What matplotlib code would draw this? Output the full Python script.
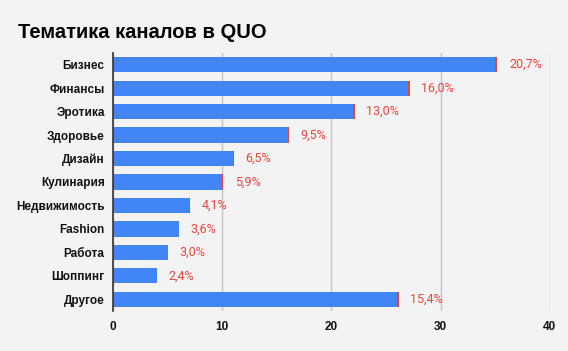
import matplotlib
matplotlib.use("Agg")
import matplotlib.pyplot as plt

categories = ["Бизнес", "Финансы", "Эротика", "Здоровье", "Дизайн", "Кулинария",
              "Недвижимость", "Fashion", "Работа", "Шоппинг", "Другое"]
counts = [35, 27, 22, 16, 11, 10, 7, 6, 5, 4, 26]
percents = [20.7, 16.0, 13.0, 9.5, 6.5, 5.9, 4.1, 3.6, 3.0, 2.4, 15.4]
xticks = [0, 10, 20, 30, 40]

bg = "#f3f3f3"
fig = plt.figure(figsize=(5.68, 3.51), dpi=100, facecolor=bg)
ax = fig.add_axes([0.199, 0.114, 0.769, 0.735], facecolor=bg)

y = list(range(len(categories)))
frac = [p / 100 for p in percents]
ax.barh(y, counts, height=0.65, color="#4285f4", zorder=3)
c2 = ax.barh(y, frac, left=counts, height=0.65, color="#ea4335", zorder=3)
labels = [f"{p:.1f}%".replace(".", ",") for p in percents]
ax.bar_label(c2, labels=labels, padding=8.5, color="#e8453c", fontsize=9,
             family="Roboto", zorder=4)

ax.set_ylim(len(categories) - 0.5, -0.5)
ax.set_xlim(0, 40)
ax.set_xticks(xticks)
ax.set_xticklabels([str(t) for t in xticks], fontsize=8.5, fontweight="bold",
                   family="Liberation Sans", color="#111111")
ax.set_yticks(y)
ax.set_yticklabels(categories, fontsize=8.5, fontweight="bold",
                   family="Liberation Sans", color="#111111")
ax.tick_params(axis="both", length=0)
ax.tick_params(axis="y", pad=6)
ax.tick_params(axis="x", pad=7)
ax.grid(axis="x", color="#c4c4c4", linewidth=1, zorder=0)
for s in ["top", "right", "bottom"]:
    ax.spines[s].set_visible(False)
ax.spines["left"].set_color("#333333")
ax.spines["left"].set_linewidth(1.2)
ax.spines["left"].set_zorder(5)

fig.text(18 / 568, 1 - 33 / 351, "Тематика каналов в QUO", fontsize=14.5,
         fontweight="bold", family="Liberation Sans", va="center", ha="left",
         color="#000000")

fig.savefig("out.png", dpi=100, facecolor=bg)
